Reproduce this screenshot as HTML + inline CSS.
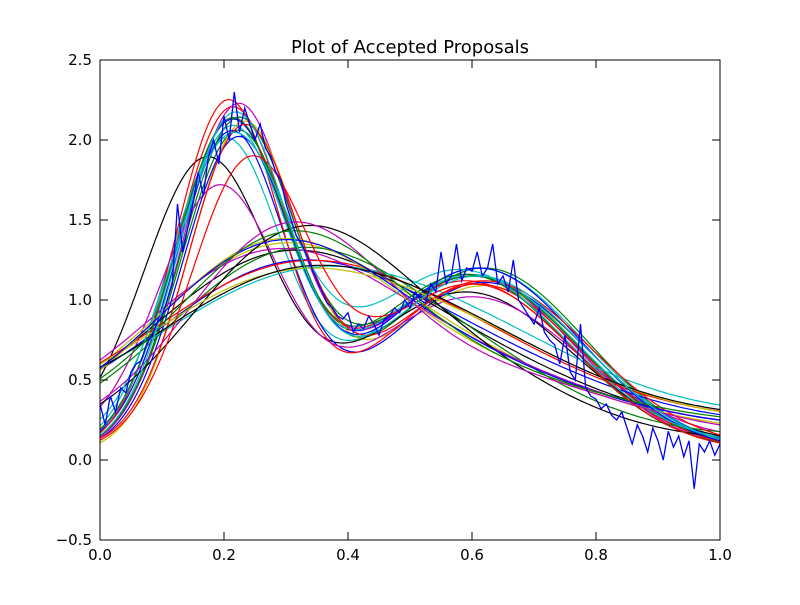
<!DOCTYPE html>
<html><head><meta charset="utf-8">
<style>
body{margin:0;background:#fff;}
svg text{font-family:"DejaVu Sans","Liberation Sans",sans-serif;}
</style></head>
<body>
<svg id="chart" width="800" height="600" xmlns="http://www.w3.org/2000/svg">
<rect x="0" y="0" width="800" height="600" fill="#fff"/>
<g id="series"></g>
<g id="axes"></g>
<text x="410" y="53" text-anchor="middle" font-size="18">Plot of Accepted Proposals</text>
</svg>
<script>
// Curve parameters: each curve = A1, m1, s1, A2, m2, s2, baseline
const curveA1 = [2.0,1.95,2.05,1.9,2.1,2.0,1.75,1.95,2.0,2.15,1.95,1.55,1.1,1.0,0.95,1.05,0.9,0.8,1.05,1.15,1.2,1.9,2.0,1.95,1.85,1.25,0.85,0.85,1.1,1.15,1.75,2.05];
const curveM1 = [0.21,0.22,0.21,0.20,0.22,0.23,0.17,0.21,0.22,0.205,0.21,0.19,0.28,0.28,0.30,0.29,0.30,0.31,0.27,0.28,0.31,0.22,0.21,0.23,0.21,0.30,0.29,0.31,0.28,0.30,0.24,0.215];
const curveS1 = [0.09,0.09,0.088,0.09,0.088,0.088,0.1,0.088,0.09,0.085,0.09,0.095,0.2,0.2,0.21,0.19,0.22,0.22,0.2,0.19,0.17,0.088,0.09,0.088,0.095,0.16,0.22,0.22,0.19,0.18,0.095,0.088];
const curveA2 = [1.1,1.15,1.05,1.15,1.1,1.05,0.95,1.05,1.1,1.05,1.1,0.9,0.3,0.35,0.3,0.4,0.3,0.35,0.3,0.3,0.4,1.15,1.1,1.05,1.1,0.35,0.35,0.3,0.3,0.25,1.05,1.1];
const curveM2 = [0.60,0.62,0.59,0.61,0.60,0.62,0.59,0.62,0.60,0.61,0.60,0.60,0.62,0.60,0.64,0.58,0.62,0.62,0.62,0.64,0.58,0.61,0.59,0.62,0.58,0.64,0.62,0.62,0.62,0.64,0.6,0.61];
const curveS2 = [0.17,0.165,0.17,0.17,0.165,0.17,0.17,0.165,0.17,0.165,0.17,0.17,0.2,0.2,0.2,0.18,0.2,0.2,0.2,0.2,0.18,0.165,0.165,0.17,0.17,0.2,0.2,0.2,0.2,0.2,0.165,0.17];
const curveB  = [0.05,0.05,0.07,0.05,0.05,0.04,0.1,0.06,0.05,0.05,0.06,0.12,0.18,0.2,0.22,0.15,0.25,0.28,0.2,0.17,0.12,0.05,0.06,0.07,0.09,0.15,0.24,0.26,0.2,0.22,0.05,0.05];
const colors = ['b','g','r','c','m','y','k'];
const colorMap = {b:'#0000ff',g:'#008000',r:'#ff0000',c:'#00bfbf',m:'#bf00bf',y:'#bfbf00',k:'#000000'};
// Noisy blue trace sampled every 1/120
const noisyY = [0.35,0.22,0.4,0.3,0.45,0.42,0.55,0.6,0.62,0.72,0.78,0.85,0.9,1.0,1.1,1.6,1.3,1.45,1.6,1.8,1.65,1.9,2.0,1.85,2.15,2.0,2.3,2.05,2.2,2.1,2.0,2.1,1.95,1.9,1.8,1.75,1.6,1.5,1.4,1.35,1.28,1.2,1.12,1.05,0.98,0.95,0.9,0.88,0.92,0.8,0.85,0.82,0.9,0.85,0.78,0.88,0.9,0.95,0.92,1.0,0.95,1.05,1.0,0.98,1.1,1.05,1.3,1.1,1.15,1.35,1.12,1.2,1.18,1.3,1.15,1.2,1.35,1.1,1.15,1.05,1.25,1.0,0.95,0.9,0.85,0.95,0.8,0.75,0.72,0.6,0.78,0.55,0.5,0.85,0.45,0.4,0.38,0.32,0.35,0.28,0.25,0.3,0.2,0.1,0.22,0.15,0.05,0.2,0.12,0.0,0.18,0.08,0.15,0.02,0.12,-0.18,0.1,0.05,0.12,0.03,0.1];
const xTicks = [0.0,0.2,0.4,0.6,0.8,1.0];
const xTickLabels = ['0.0','0.2','0.4','0.6','0.8','1.0'];
const yTicks = [-0.5,0.0,0.5,1.0,1.5,2.0,2.5];
const yTickLabels = ['\u22120.5','0.0','0.5','1.0','1.5','2.0','2.5'];

const L=100,R=720,T=60,B=540;
const xs = v => L + (v-0)/(1-0)*(R-L);
const ys = v => B - (v-(-0.5))/(2.5-(-0.5))*(B-T);
const NS='http://www.w3.org/2000/svg';
const sg=document.getElementById('series');
for(let i=0;i<curveA1.length;i++){
  let d='';
  for(let k=0;k<=200;k++){
    const x=k/200;
    const y=curveA1[i]*Math.exp(-Math.pow(x-curveM1[i],2)/(2*curveS1[i]*curveS1[i]))+curveA2[i]*Math.exp(-Math.pow(x-curveM2[i],2)/(2*curveS2[i]*curveS2[i]))+curveB[i];
    d+=(k?'L':'M')+xs(x).toFixed(1)+','+ys(y).toFixed(1);
  }
  const p=document.createElementNS(NS,'path');
  p.setAttribute('d',d);p.setAttribute('fill','none');
  p.setAttribute('stroke',colorMap[colors[i%7]]);p.setAttribute('stroke-width','1.2');
  
  
  sg.appendChild(p);
}
{
  let d='';
  noisyY.forEach((v,k)=>{const x=k/(noisyY.length-1);d+=(k?'L':'M')+xs(x).toFixed(1)+','+ys(v).toFixed(1);});
  const p=document.createElementNS(NS,'path');
  p.setAttribute('d',d);p.setAttribute('fill','none');p.setAttribute('stroke','#0000ff');p.setAttribute('stroke-width','1.3');
  
  
  sg.appendChild(p);
}
const ax=document.getElementById('axes');
const fr=document.createElementNS(NS,'rect');
fr.setAttribute('x',L);fr.setAttribute('y',T);fr.setAttribute('width',R-L);fr.setAttribute('height',B-T);
fr.setAttribute('fill','none');fr.setAttribute('stroke','#000');


ax.appendChild(fr);
function line(x1,y1,x2,y2){const l=document.createElementNS(NS,'line');l.setAttribute('x1',x1);l.setAttribute('y1',y1);l.setAttribute('x2',x2);l.setAttribute('y2',y2);l.setAttribute('stroke','#000');


ax.appendChild(l);}
function text(x,y,s,anchor,name){const t=document.createElementNS(NS,'text');t.setAttribute('x',x);t.setAttribute('y',y);t.setAttribute('text-anchor',anchor);t.setAttribute('font-size','15');t.textContent=s;


ax.appendChild(t);}
xTicks.forEach((v,i)=>{const x=xs(v);line(x,B,x,B-8);line(x,T,x,T+8);text(x,B+20,xTickLabels[i],'middle','x-tick-label');});
yTicks.forEach((v,i)=>{const y=ys(v);line(L,y,L+8,y);line(R,y,R-8,y);text(L-8,y+5,yTickLabels[i],'end','y-tick-label');});
</script>
</body></html>
